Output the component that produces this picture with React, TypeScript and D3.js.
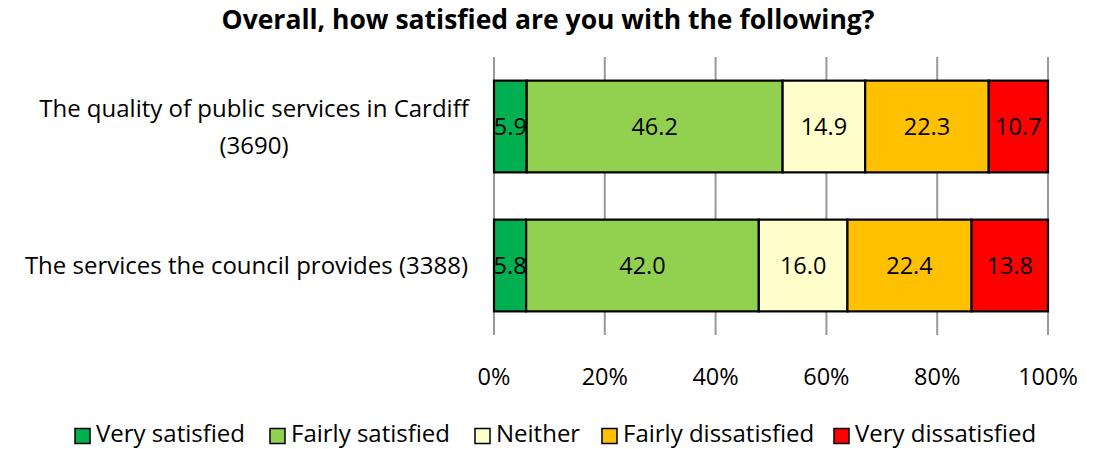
import React from "react";
import * as d3 from "d3";

const categories = ["The quality of public services in Cardiff (3690)", "The services the council provides (3388)"];
const categoryLines = [["The quality of public services in Cardiff", "(3690)"], ["The services the council provides (3388)"]];
const seriesNames = ["Very satisfied", "Fairly satisfied", "Neither", "Fairly dissatisfied", "Very dissatisfied"];
const seriesColors = ["#00B050", "#92D050", "#FFFFCC", "#FFC000", "#FF0000"];
const veryBad = [10.7, 13.8];
const veryGood = [5.9, 5.8];
const fairlyGood = [46.2, 42.0];
const neither = [14.9, 16.0];
const fairlyBad = [22.3, 22.4];
const ticks = [0, 20, 40, 60, 80, 100];

const FONT = "'Open Sans', sans-serif";

export default function App() {
  const W = 1104, H = 449;
  const x = d3.scaleLinear().domain([0, 100]).range([494, 1048]);
  const y = d3.scaleBand().domain(categories).range([57, 335]).paddingInner(0.34).paddingOuter(0.17);
  const series = [veryGood, fairlyGood, neither, fairlyBad, veryBad];
  const rows = categories.map((c, i) => {
    let acc = 0;
    return series.map((s, k) => {
      const v = s[i];
      const seg = { k, v, x0: acc, x1: acc + v };
      acc += v;
      return seg;
    });
  });
  const legendX = [75, 270, 475, 602, 834];
  return (
    <svg width={W} height={H} style={{ position: "absolute", left: 0, top: 0, background: "#fff" }} fontFamily={FONT}>
      <text x={548} y={20} dy="0.35em" textAnchor="middle" fontWeight="bold" fontSize={26.5}>Overall, how satisfied are you with the following?</text>
      {ticks.map((t) => (
        <line key={t} x1={x(t)} x2={x(t)} y1={57} y2={335} stroke="#999" strokeWidth={2} />
      ))}
      {categories.map((c, i) => (
        <g key={c}>
          {rows[i].map((s) => (
            <g key={s.k}>
              <rect x={x(s.x0)} y={y(c)!} width={x(s.x1) - x(s.x0)} height={y.bandwidth()} fill={seriesColors[s.k]} stroke="#000" strokeWidth={2.2} />
              <text x={(x(s.x0) + x(s.x1)) / 2} y={y(c)! + y.bandwidth() / 2} dy="0.35em" textAnchor="middle" fontSize={23.5} fill="#000">{s.v.toFixed(1)}</text>
            </g>
          ))}
          {categoryLines[i].length === 2 ? (
            <>
              <text x={254} y={y(c)! + y.bandwidth() / 2 - 18} dy="0.35em" textAnchor="middle" fontSize={24} fill="#000">{categoryLines[i][0]}</text>
              <text x={254} y={y(c)! + y.bandwidth() / 2 + 19} dy="0.35em" textAnchor="middle" fontSize={24} fill="#000">{categoryLines[i][1]}</text>
            </>
          ) : (
            <text x={468} y={y(c)! + y.bandwidth() / 2} dy="0.35em" textAnchor="end" fontSize={24} fill="#000">{categoryLines[i][0]}</text>
          )}
        </g>
      ))}
      {ticks.map((t) => (
        <text key={t} x={x(t)} y={377} dy="0.35em" textAnchor="middle" fontSize={23.5} fill="#000">{t}%</text>
      ))}
      {seriesNames.map((n, k) => (
        <g key={n}>
          <rect x={legendX[k]} y={428.5} width={15} height={15} fill={seriesColors[k]} stroke="#000" strokeWidth={1.5} />
          <text x={legendX[k] + 21} y={434} dy="0.35em" fontSize={24} fill="#000">{n}</text>
        </g>
      ))}
    </svg>
  );
}
